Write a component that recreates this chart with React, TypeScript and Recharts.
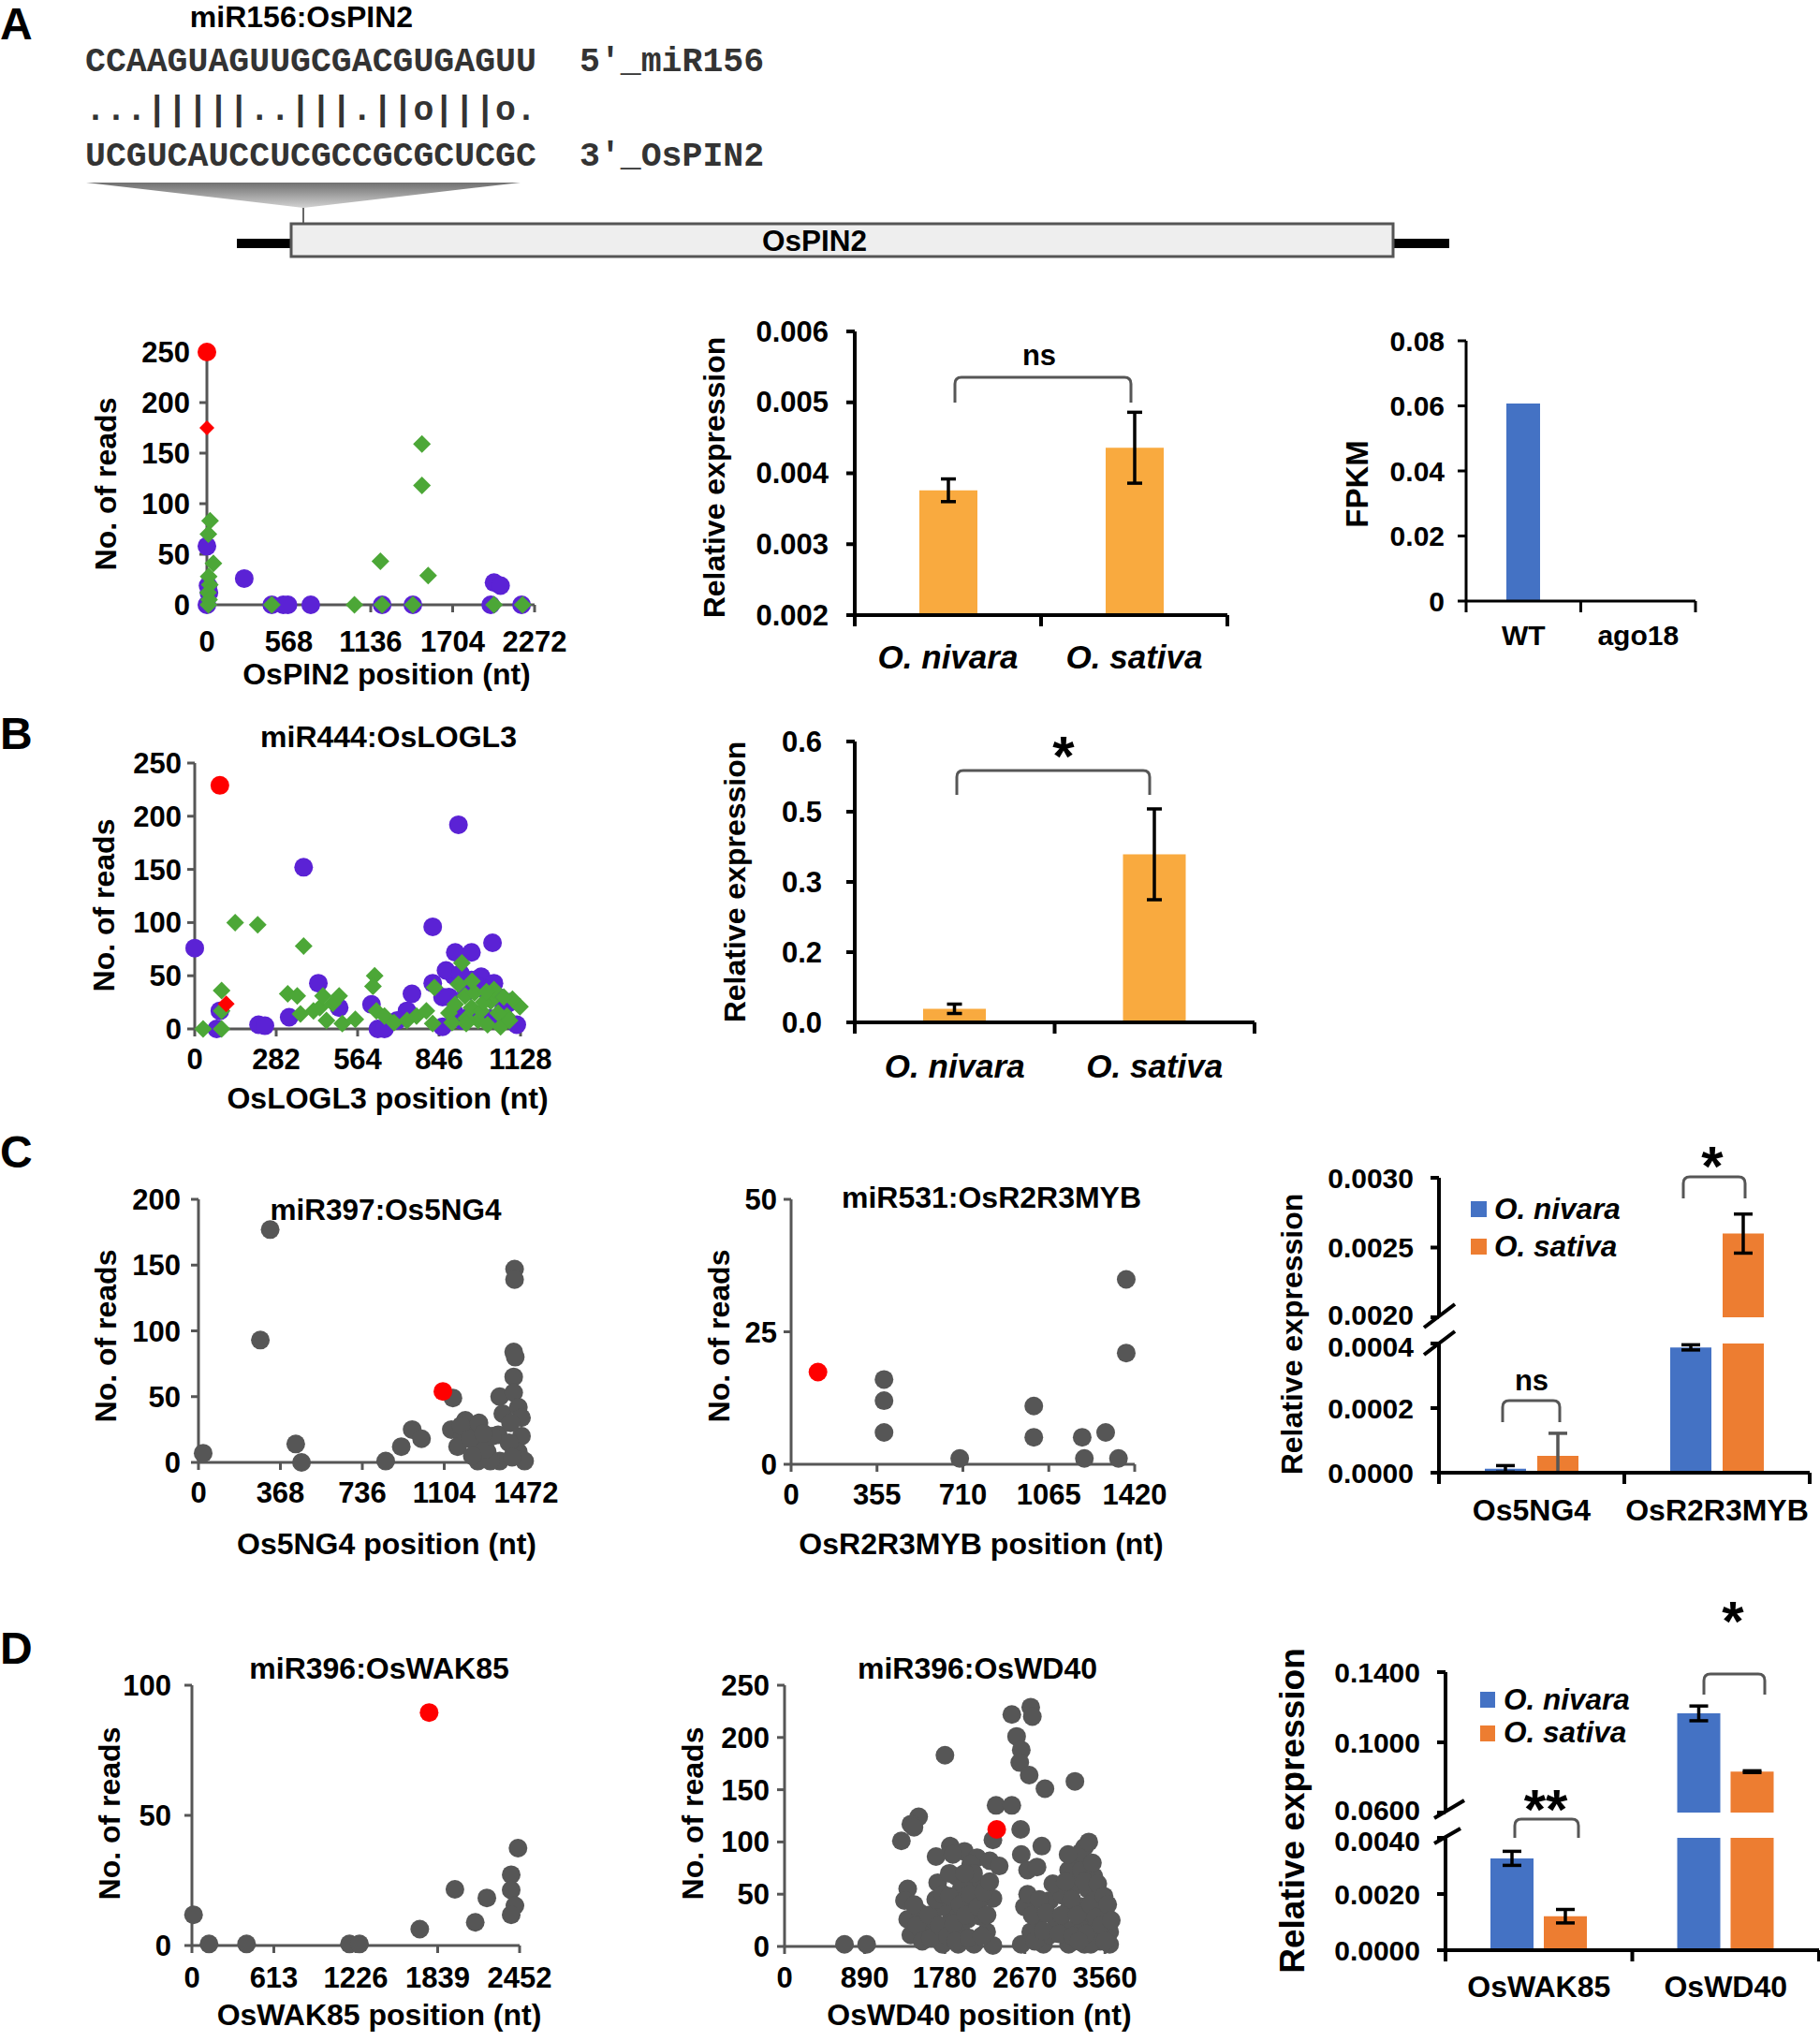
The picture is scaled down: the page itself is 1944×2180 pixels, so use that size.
import React from "react";
import { ScatterChart, Scatter, BarChart, Bar, XAxis, YAxis, ErrorBar } from "recharts";

const FONT = "'Liberation Sans', Arial, Helvetica, sans-serif";
const MONO = "'Liberation Mono', 'DejaVu Sans Mono', monospace";
const PURPLE = "#5B22D5";
const GREEN = "#4CA737";
const RED = "#FF0000";
const GREY = "#565656";
const AMBER = "#F9AA3F";
const BLUE = "#4472C4";
const ORANGE = "#ED7D31";

// ---------- A: miR156 : OsPIN2 ----------
const pin2X = [0, 568, 1136, 1704, 2272];
const pin2Y = [0, 50, 100, 150, 200, 250];
const pin2Purple = [[0, 58], [8, 19], [14, 12], [0, 0], [259, 26], [450, 0], [529, 0], [562, 0], [720, 0], [1215, 0], [1428, 0], [1968, 0], [1991, 22], [2036, 19], [2182, 0]];
const pin2Green = [[22, 83], [10, 70], [45, 41], [12, 28], [20, 20], [8, 12], [15, 5], [10, 0], [450, 0], [1023, 0], [1203, 43], [1215, 0], [1428, 0], [1491, 159], [1491, 118], [1534, 29], [1991, 0], [2189, 0]];
const pin2RedDot = [[0, 250]];
const pin2RedDiamond = [[0, 175]];

const pin2Groups = ["O. nivara", "O. sativa"];
const pin2Expr = [0.00376, 0.00436];
const pin2Err = [0.00016, 0.0005];
const pin2ExprTicks = [0.002, 0.003, 0.004, 0.005, 0.006];

const fpkmGroups = ["WT", "ago18"];
const fpkmValues = [0.0607, 0];
const fpkmTicks = [0, 0.02, 0.04, 0.06, 0.08];
const fpkmLabels = ["0", "0.02", "0.04", "0.06", "0.08"];

// ---------- B: miR444 : OsLOGL3 ----------
const loglX = [0, 282, 564, 846, 1128];
const loglY = [0, 50, 100, 150, 200, 250];
const loglPurple = [[0, 76], [377, 152], [913, 192], [824, 96], [1031, 81], [428, 43], [902, 72], [958, 72], [87, 17], [76, 0], [221, 4], [243, 3], [327, 11], [612, 23], [634, 0], [657, 0], [752, 33], [824, 43], [858, 30], [897, 50], [958, 46], [992, 49], [1036, 43], [1070, 20], [1115, 4], [858, 2], [925, 8], [735, 17], [701, 8], [500, 20], [880, 30], [940, 35], [1000, 38], [1050, 30], [1090, 25], [900, 15], [960, 15], [1020, 10], [1060, 8], [870, 55], [920, 52], [980, 40]];
const loglGreen = [[29, 0], [93, 36], [93, 17], [93, 0], [140, 100], [218, 98], [377, 78], [322, 33], [355, 31], [366, 14], [411, 17], [433, 20], [444, 31], [478, 24], [500, 31], [456, 8], [511, 5], [556, 9], [623, 50], [617, 40], [629, 17], [657, 12], [690, 6], [735, 8], [768, 12], [802, 17], [824, 5], [830, 39], [925, 62], [913, 42], [902, 23], [936, 31], [958, 20], [981, 8], [992, 17], [1025, 26], [1036, 37], [1059, 2], [1014, 4], [1081, 12], [1126, 21], [969, 34], [891, 6], [880, 15], [940, 10], [1000, 25], [1050, 15], [1100, 28], [960, 45], [1010, 35], [1070, 30], [1090, 8], [940, 5]];
const loglRedDot = [[87, 229]];
const loglRedDiamond = [[109, 23.5]];

const loglExpr = [0.029, 0.359];
const loglErr = [0.01, 0.097];
const loglTicks = [0, 0.15, 0.3, 0.45, 0.6];
const loglLabels = ["0.0", "0.2", "0.3", "0.5", "0.6"];

// ---------- C: miR397 / miR531 ----------
const ng4X = [0, 368, 736, 1104, 1472];
const ng4Y = [0, 50, 100, 150, 200];
const ng4Grey = [[21, 7], [322, 177], [278, 93], [437, 14], [463, 0], [841, 1], [911, 12], [960, 25], [1002, 18], [1143, 49], [1136, 25], [1199, 32], [1185, 20], [1164, 12], [1241, 23], [1269, 15], [1255, 1], [1297, 8], [1353, 50], [1367, 37], [1346, 21], [1353, 1], [1420, 147], [1420, 139], [1416, 84], [1423, 80], [1416, 65], [1416, 53], [1437, 42], [1451, 34], [1451, 20], [1437, 8], [1465, 1], [1402, 30], [1395, 15], [1409, 4], [1311, 1], [1180, 28], [1220, 18], [1260, 30], [1290, 10], [1320, 20], [1230, 5], [1280, 22]];
const ng4Red = [[1098, 54]];

const mybX = [0, 355, 710, 1065, 1420];
const mybY = [0, 25, 50];
const mybGrey = [[384, 16], [384, 12], [384, 6], [697, 1.1], [1003, 11], [1003, 5.1], [1203, 5.1], [1212, 1.1], [1300, 6], [1353, 1.1], [1385, 34.9], [1385, 21]];
const mybRed = [[111, 17.4]];

const cGenes = ["Os5NG4", "OsR2R3MYB"];
const cNivara = [0.000012, 0.000388];
const cNivaraErr = [0.00001, 0.000008];
const cSativa = [0.000052, 0.0026];
const cSativaErr = [0.00007, 0.00014];
const cHighTicks = [0.002, 0.0025, 0.003];
const cLowTicks = [0, 0.0002, 0.0004];

// ---------- D: miR396 ----------
const wakX = [0, 613, 1226, 1839, 2452];
const wakY = [0, 50, 100];
const wakGrey = [[12, 11.8], [128, 0.6], [409, 0.6], [1179, 0.6], [1254, 0.6], [1705, 6.3], [1968, 21.6], [2120, 8.9], [2207, 18.3], [2440, 37.4], [2389, 27.2], [2389, 21.3], [2417, 15.3], [2389, 11.8]];
const wakRed = [[1775, 89.5]];

const wdX = [0, 890, 1780, 2670, 3560];
const wdY = [0, 50, 100, 150, 200, 250];
const wdGrey = [[666, 2], [912, 2], [1782, 183], [2525, 222], [2735, 229], [2753, 220], [2578, 201], [2630, 188], [2613, 176], [2718, 164], [2893, 151], [3226, 158], [2350, 135], [2525, 135], [2315, 102], [2623, 112], [2858, 96], [3332, 95], [1490, 124], [1403, 117], [1298, 101], [1438, 114], [1841, 96], [1683, 86], [1999, 91], [2139, 85], [2280, 82], [2385, 77], [1701, 61], [1911, 67], [2630, 88], [2700, 73], [2805, 76], [3226, 85], [3156, 73], [1368, 55], [1333, 44], [1368, 26], [1403, 11], [1578, 14], [1508, 32], [1648, 26], [1754, 2], [1929, 2], [2104, 2], [2315, 1], [2630, 2], [2876, 2], [3156, 2], [3332, 2], [3507, 5], [1789, 20], [1964, 14], [2034, 26], [2104, 44], [2139, 61], [2174, 29], [2245, 14], [2315, 46], [1859, 29], [1999, 38], [1754, 38], [1964, 55], [2069, 79], [2665, 38], [2805, 26], [2735, 14], [2946, 44], [3016, 26], [2946, 11], [3086, 49], [3156, 35], [3226, 58], [3297, 73], [3367, 55], [3437, 44], [3507, 38], [3577, 29], [3612, 14], [3542, 17], [3367, 26], [3262, 20], [3121, 17], [3472, 11], [3297, 38], [3402, 2], [3612, 2], [3437, 67],
  [1440, 40], [1470, 20], [1530, 5], [1600, 30], [1620, 8], [1680, 45], [1720, 20], [1760, 50], [1810, 10], [1830, 48], [1880, 22], [1900, 5], [1950, 40], [1980, 60], [2010, 30], [2050, 8], [2060, 50], [2100, 70], [2150, 38], [2190, 10], [2210, 52], [2250, 30], [2280, 62], [1830, 70], [1870, 88], [2000, 70],
  [2700, 50], [2750, 30], [2780, 5], [2830, 45], [2870, 15], [2910, 32], [2980, 60], [3050, 12], [3080, 30], [3120, 62], [3190, 45], [3200, 10], [3250, 30], [3290, 90], [3330, 62], [3350, 12], [3400, 40], [3420, 80], [3460, 28], [3480, 60], [3520, 20], [3550, 48], [3590, 40], [3630, 25], [3270, 5], [3560, 5], [3150, 88], [3380, 100]];
const wdRed = [[2357, 112]];

const dGenes = ["OsWAK85", "OsWD40"];
const dNivara = [0.00327, 0.1165];
const dNivaraErr = [0.00025, 0.0042];
const dSativa = [0.00121, 0.0833];
const dSativaErr = [0.00024, 0.0005];
const dHighTicks = [0.06, 0.1, 0.14];
const dLowTicks = [0, 0.002, 0.004];

// ---------- helpers ----------
type P = { x: number; y: number };
const pts = (a: number[][]): P[] => a.map(([x, y]) => ({ x, y }));

const circle = (fill: string, r: number) => (p: any) => <circle cx={p.cx} cy={p.cy} r={r} fill={fill} />;
const diamond = (fill: string, h: number) => (p: any) => (
  <path d={`M${p.cx},${p.cy - h}L${p.cx + h},${p.cy}L${p.cx},${p.cy + h}L${p.cx - h},${p.cy}Z`} fill={fill} />
);

const tickFont = { fill: "#000", fontSize: 31, fontWeight: 700, fontFamily: FONT };

type Series = { data: P[]; shape: any };

function ScatterPanel(props: { l: number; t: number; r: number; b: number; xTicks: number[]; yTicks: number[]; series: Series[]; yGap: number; xGap: number }) {
  const { l, t, r, b, xTicks, yTicks, series, yGap, xGap } = props;
  const padL = 110, padT = 20, padR = 70, padB = 60;
  const line = { stroke: GREY, strokeWidth: 3 };
  return (
    <div style={{ position: "absolute", left: l - padL, top: t - padT }}>
      <ScatterChart width={r - l + padL + padR} height={b - t + padT + padB} margin={{ top: padT, right: padR, bottom: 0, left: 0 }}>
        <XAxis type="number" dataKey="x" domain={[xTicks[0], xTicks[xTicks.length - 1]]} ticks={xTicks} interval={0} height={padB}
          axisLine={line} tickLine={line} tickSize={8} tickMargin={xGap} tick={tickFont} />
        <YAxis type="number" dataKey="y" domain={[yTicks[0], yTicks[yTicks.length - 1]]} ticks={yTicks} interval={0} width={padL}
          axisLine={line} tickLine={line} tickSize={8} tickMargin={yGap} tick={tickFont} />
        {series.map((s, i) => (
          <Scatter key={i} data={s.data} shape={s.shape} isAnimationActive={false} />
        ))}
      </ScatterChart>
    </div>
  );
}

const catTick = (band: number, last: number, base: number, fs: number, italic: boolean, lw: number) => (p: any) => {
  const { x, y, payload, index } = p;
  return (
    <g>
      <line x1={x - band / 2} x2={x - band / 2} y1={y} y2={y + 12} stroke="#000" strokeWidth={lw} />
      {index === last && <line x1={x + band / 2} x2={x + band / 2} y1={y} y2={y + 12} stroke="#000" strokeWidth={lw} />}
      <text x={x} y={y + base} textAnchor="middle" fontSize={fs} fontWeight={700} fontStyle={italic ? "italic" : "normal"} fill="#000" fontFamily={FONT}>
        {payload.value}
      </text>
    </g>
  );
};

const valTick = (ticks: number[], labels: string[], fs: number, shift: number[]) => (p: any) => {
  const i = ticks.indexOf(p.payload.value);
  return (
    <text x={p.x} y={p.y + (shift[i] || 0)} textAnchor="end" dominantBaseline="central" fontSize={fs} fontWeight={700} fontFamily={FONT} fill="#000">
      {labels[i]}
    </text>
  );
};

type BarSeries = { v: string; e?: string; fill: string; errStroke?: string };

function BarPanel(props: {
  l: number; t: number; r: number; b: number; data: any[]; domain: number[]; ticks: number[]; labels: string[];
  series: BarSeries[]; barSize: number; barGap?: number; showX: boolean; base?: number; catFs?: number; italic?: boolean;
  yGap: number; tickFs: number; cap: number; lw: number; clip?: boolean; shift?: number[];
}) {
  const { l, t, r, b, data, domain, ticks, labels, series, barSize, barGap = 4, showX, base = 50, catFs = 30, italic = false, yGap, tickFs, cap, lw, clip = false, shift = [] } = props;
  const padL = 140, padT = 20, padR = 12, padB = showX ? 70 : 24;
  const band = (r - l) / data.length;
  const line = { stroke: "#000", strokeWidth: lw };
  return (
    <div style={{ position: "absolute", left: l - padL, top: t - padT }}>
      <BarChart width={r - l + padL + padR} height={b - t + padT + padB} data={data} barSize={barSize} barGap={barGap}
        margin={{ top: padT, right: padR, bottom: showX ? 0 : padB, left: 0 }}>
        {series.map((s) => (
          <Bar key={s.v} dataKey={s.v} fill={s.fill} isAnimationActive={false}>
            {s.e && <ErrorBar dataKey={s.e} direction="y" width={cap} strokeWidth={3.5} stroke={s.errStroke || "#000"} />}
          </Bar>
        ))}
        <XAxis dataKey="c" type="category" hide={!showX} height={padB} axisLine={line} tickLine={false} tickSize={0} tickMargin={0} interval={0}
          tick={catTick(band, data.length - 1, base, catFs, italic, lw)} />
        <YAxis type="number" domain={domain} ticks={ticks} interval={0} width={padL} allowDataOverflow={clip}
          axisLine={line} tickLine={line} tickSize={9} tickMargin={yGap} tick={valTick(ticks, labels, tickFs, shift)} />
      </BarChart>
    </div>
  );
}

// data tables built from arrays
const pin2Table = pin2Groups.map((c, i) => ({ c, v: pin2Expr[i], e: pin2Err[i] }));
const fpkmTable = fpkmGroups.map((c, i) => ({ c, v: fpkmValues[i] }));
const loglTable = pin2Groups.map((c, i) => ({ c, v: loglExpr[i], e: loglErr[i] }));

function splitTable(genes: string[], niv: number[], nivE: number[], sat: number[], satE: number[], lowMax: number, highMin: number) {
  const low = genes.map((c, i) => ({
    c,
    n: niv[i], ne: niv[i] < lowMax ? [Math.min(nivE[i], niv[i]), nivE[i]] : null,
    s: sat[i], se: sat[i] < lowMax ? [Math.min(satE[i], sat[i]), satE[i]] : null,
  }));
  const high = genes.map((c, i) => ({
    c,
    n: niv[i] >= highMin ? niv[i] : null, ne: niv[i] >= highMin ? nivE[i] : null,
    s: sat[i] >= highMin ? sat[i] : null, se: sat[i] >= highMin ? satE[i] : null,
  }));
  return { low, high };
}
const cTables = splitTable(cGenes, cNivara, cNivaraErr, cSativa, cSativaErr, 0.0004, 0.002);
const dTables = splitTable(dGenes, dNivara, dNivaraErr, dSativa, dSativaErr, 0.004, 0.06);

const fmt = (d: number) => (v: number) => v.toFixed(d);

// ---------- overlay helpers ----------
function T(p: { x: number; y: number; s: number; children: any; a?: string; it?: boolean; w?: number; f?: string; fill?: string }) {
  return (
    <text x={p.x} y={p.y} fontSize={p.s} textAnchor={(p.a as any) || "middle"} fontWeight={p.w ?? 700} fontStyle={p.it ? "italic" : "normal"}
      fontFamily={p.f || FONT} fill={p.fill || "#000"}>{p.children}</text>
  );
}
function VT(p: { x: number; y: number; s: number; children: any }) {
  return (
    <text x={p.x} y={p.y} fontSize={p.s} textAnchor="middle" dominantBaseline="central" fontWeight={700} fontFamily={FONT}
      transform={`rotate(-90 ${p.x} ${p.y})`}>{p.children}</text>
  );
}
function Bracket(p: { x1: number; x2: number; top: number; leg: number }) {
  const r = 7;
  return (
    <path d={`M${p.x1},${p.leg}L${p.x1},${p.top + r}Q${p.x1},${p.top} ${p.x1 + r},${p.top}L${p.x2 - r},${p.top}Q${p.x2},${p.top} ${p.x2},${p.top + r}L${p.x2},${p.leg}`}
      fill="none" stroke={GREY} strokeWidth={3} />
  );
}

export default function App() {
  return (
    <div style={{ position: "absolute", left: 0, top: 0, width: 1944, height: 2180, background: "#fff", fontFamily: FONT, overflow: "hidden" }}>
      {/* A */}
      <ScatterPanel l={221} t={376} r={571} b={646} xTicks={pin2X} yTicks={pin2Y} yGap={10} xGap={20}
        series={[
          { data: pts(pin2Purple), shape: circle(PURPLE, 10) },
          { data: pts(pin2Green), shape: diamond(GREEN, 9.5) },
          { data: pts(pin2RedDot), shape: circle(RED, 10) },
          { data: pts(pin2RedDiamond), shape: diamond(RED, 8) },
        ]} />
      <BarPanel l={913} t={354} r={1311} b={657} data={pin2Table} domain={[0.002, 0.006]} ticks={pin2ExprTicks}
        labels={pin2ExprTicks.map(fmt(3))} series={[{ v: "v", e: "e", fill: AMBER }]} barSize={62} showX base={57} catFs={35} italic
        yGap={19} tickFs={31} cap={8} lw={4} />
      <BarPanel l={1566} t={364} r={1811} b={642} data={fpkmTable} domain={[0, 0.08]} ticks={fpkmTicks} labels={fpkmLabels}
        series={[{ v: "v", fill: BLUE }]} barSize={36} showX base={47} catFs={30} yGap={14} tickFs={30} cap={8} lw={3} />

      {/* B */}
      <ScatterPanel l={208} t={815} r={556} b={1099} xTicks={loglX} yTicks={loglY} yGap={6} xGap={13}
        series={[
          { data: pts(loglPurple), shape: circle(PURPLE, 10) },
          { data: pts(loglGreen), shape: diamond(GREEN, 9.5) },
          { data: pts(loglRedDot), shape: circle(RED, 10) },
          { data: pts(loglRedDiamond), shape: diamond(RED, 9) },
        ]} />
      <BarPanel l={913} t={792} r={1340} b={1092} data={loglTable} domain={[0, 0.6]} ticks={loglTicks} labels={loglLabels}
        series={[{ v: "v", e: "e", fill: AMBER }]} barSize={67} showX base={59} catFs={35} italic yGap={26} tickFs={31} cap={8} lw={4} />

      {/* C */}
      <ScatterPanel l={212} t={1281} r={562} b={1562} xTicks={ng4X} yTicks={ng4Y} yGap={11} xGap={13}
        series={[{ data: pts(ng4Grey), shape: circle(GREY, 10) }, { data: pts(ng4Red), shape: circle(RED, 10) }]} />
      <ScatterPanel l={845} t={1281} r={1212} b={1564} xTicks={mybX} yTicks={mybY} yGap={7} xGap={13}
        series={[{ data: pts(mybGrey), shape: circle(GREY, 10) }, { data: pts(mybRed), shape: circle(RED, 10) }]} />
      <BarPanel l={1537} t={1258} r={1933} b={1407} data={cTables.high} domain={[0.002, 0.003]} ticks={cHighTicks}
        labels={cHighTicks.map(fmt(4))} series={[{ v: "n", e: "ne", fill: BLUE }, { v: "s", e: "se", fill: ORANGE }]}
        barSize={44} barGap={12} showX={false} yGap={18} tickFs={30} cap={10} lw={4} shift={[-3]} />
      <BarPanel l={1537} t={1435} r={1933} b={1573} data={cTables.low} domain={[0, 0.0004]} ticks={cLowTicks} clip
        labels={cLowTicks.map(fmt(4))} series={[{ v: "n", e: "ne", fill: BLUE }, { v: "s", e: "se", fill: ORANGE, errStroke: GREY }]}
        barSize={44} barGap={12} showX base={51} catFs={32} yGap={18} tickFs={30} cap={10} lw={4} shift={[0, 0, 3]} />

      {/* D */}
      <ScatterPanel l={205} t={1800} r={555} b={2078} xTicks={wakX} yTicks={wakY} yGap={14} xGap={15}
        series={[{ data: pts(wakGrey), shape: circle(GREY, 10) }, { data: pts(wakRed), shape: circle(RED, 10) }]} />
      <ScatterPanel l={838} t={1800} r={1187} b={2079} xTicks={wdX} yTicks={wdY} yGap={8} xGap={14}
        series={[{ data: pts(wdGrey), shape: circle(GREY, 10) }, { data: pts(wdRed), shape: circle(RED, 10) }]} />
      <BarPanel l={1544} t={1786} r={1943} b={1936} data={dTables.high} domain={[0.06, 0.14]} ticks={dHighTicks}
        labels={dHighTicks.map(fmt(4))} series={[{ v: "n", e: "ne", fill: BLUE }, { v: "s", e: "se", fill: ORANGE }]}
        barSize={46} barGap={11} showX={false} yGap={18} tickFs={30} cap={10} lw={4} shift={[-3]} />
      <BarPanel l={1544} t={1963} r={1943} b={2083} data={dTables.low} domain={[0, 0.004]} ticks={dLowTicks} clip
        labels={dLowTicks.map(fmt(4))} series={[{ v: "n", e: "ne", fill: BLUE }, { v: "s", e: "se", fill: ORANGE }]}
        barSize={46} barGap={11} showX base={50} catFs={32} yGap={18} tickFs={30} cap={10} lw={4} shift={[0, 0, 3]} />

      <svg width={1944} height={2180} style={{ position: "absolute", left: 0, top: 0, pointerEvents: "none" }}>
        <defs>
          <linearGradient id="tri" x1="0" y1="0" x2="0" y2="1">
            <stop offset="0" stopColor="#707070" />
            <stop offset="1" stopColor="#d2d2d2" />
          </linearGradient>
        </defs>
        {/* panel letters */}
        <T x={0} y={42} s={48} a="start">A</T>
        <T x={0} y={800} s={48} a="start">B</T>
        <T x={0} y={1247} s={48} a="start">C</T>
        <T x={0} y={1777} s={48} a="start">D</T>

        {/* A header: pairing and gene model */}
        <T x={322} y={29} s={32}>miR156:OsPIN2</T>
        <T x={91} y={76} s={36.5} a="start" f={MONO} fill="#333">CCAAGUAGUUGCGACGUGAGUU</T>
        <T x={619} y={76} s={36.5} a="start" f={MONO} fill="#333">5'_miR156</T>
        <T x={91} y={128} s={36.5} a="start" f={MONO} fill="#333">...|||||..|||.||o|||o.</T>
        <T x={91} y={177} s={36.5} a="start" f={MONO} fill="#333">UCGUCAUCCUCGCCGCGCUCGC</T>
        <T x={619} y={177} s={36.5} a="start" f={MONO} fill="#333">3'_OsPIN2</T>
        <polygon points="92,195 556,195 324,222" fill="url(#tri)" />
        <line x1={324} y1={222} x2={324} y2={239} stroke="#666" strokeWidth={2} />
        <rect x={253} y={255} width={60} height={10} fill="#000" />
        <rect x={1486} y={255} width={62} height={10} fill="#000" />
        <rect x={311} y={239} width={1177} height={35} fill="#eeeeee" stroke="#555" strokeWidth={3} />
        <T x={870} y={268} s={31.5}>OsPIN2</T>

        {/* A axis titles */}
        <VT x={113} y={517} s={32}>No. of reads</VT>
        <T x={413} y={731} s={32}>OsPIN2 position (nt)</T>
        <VT x={763} y={510} s={32}>Relative expression</VT>
        <Bracket x1={1020} x2={1208} top={403} leg={430} />
        <T x={1110} y={390} s={31}>ns</T>
        <VT x={1449} y={517} s={33}>FPKM</VT>

        {/* B */}
        <T x={415} y={798} s={32}>miR444:OsLOGL3</T>
        <VT x={111} y={967} s={32}>No. of reads</VT>
        <T x={414} y={1184} s={32}>OsLOGL3 position (nt)</T>
        <VT x={785} y={942} s={32}>Relative expression</VT>
        <Bracket x1={1022} x2={1228} top={823} leg={849} />
        <T x={1136} y={828} s={60}>*</T>

        {/* C */}
        <T x={412} y={1303} s={31.5}>miR397:Os5NG4</T>
        <VT x={113} y={1427} s={32}>No. of reads</VT>
        <T x={413} y={1660} s={32}>Os5NG4 position (nt)</T>
        <T x={1059} y={1290} s={32}>miR531:OsR2R3MYB</T>
        <VT x={768} y={1427} s={32}>No. of reads</VT>
        <T x={1048} y={1660} s={32}>OsR2R3MYB position (nt)</T>
        <VT x={1380} y={1425} s={32}>Relative expression</VT>
        <line x1={1521} y1={1418} x2={1554} y2={1393} stroke="#000" strokeWidth={4} />
        <line x1={1521} y1={1447} x2={1554} y2={1422} stroke="#000" strokeWidth={4} />
        <rect x={1571} y={1283} width={17} height={17} fill={BLUE} />
        <T x={1596} y={1302} s={31.5} a="start" it>O. nivara</T>
        <rect x={1571} y={1323} width={17} height={17} fill={ORANGE} />
        <T x={1596} y={1342} s={31.5} a="start" it>O. sativa</T>
        <Bracket x1={1798} x2={1864} top={1257} leg={1280} />
        <T x={1829} y={1266} s={60}>*</T>
        <Bracket x1={1605} x2={1666} top={1496} leg={1519} />
        <T x={1636} y={1485} s={31}>ns</T>

        {/* D */}
        <T x={405} y={1793} s={32}>miR396:OsWAK85</T>
        <VT x={117} y={1937} s={32}>No. of reads</VT>
        <T x={405} y={2163} s={32}>OsWAK85 position (nt)</T>
        <T x={1044} y={1793} s={32}>miR396:OsWD40</T>
        <VT x={740} y={1937} s={32}>No. of reads</VT>
        <T x={1046} y={2163} s={32}>OsWD40 position (nt)</T>
        <VT x={1380} y={1934} s={37}>Relative expression</VT>
        <line x1={1532} y1={1942} x2={1564} y2={1923} stroke="#000" strokeWidth={4} />
        <line x1={1532} y1={1969} x2={1560} y2={1953} stroke="#000" strokeWidth={4} />
        <rect x={1581} y={1807} width={16} height={17} fill={BLUE} />
        <T x={1606} y={1826} s={31.5} a="start" it>O. nivara</T>
        <rect x={1581} y={1843} width={16} height={17} fill={ORANGE} />
        <T x={1606} y={1861} s={31.5} a="start" it>O. sativa</T>
        <Bracket x1={1618} x2={1686} top={1943} leg={1963} />
        <T x={1651} y={1953} s={60}>**</T>
        <Bracket x1={1820} x2={1885} top={1788} leg={1810} />
        <T x={1851} y={1752} s={60}>*</T>
      </svg>
    </div>
  );
}
